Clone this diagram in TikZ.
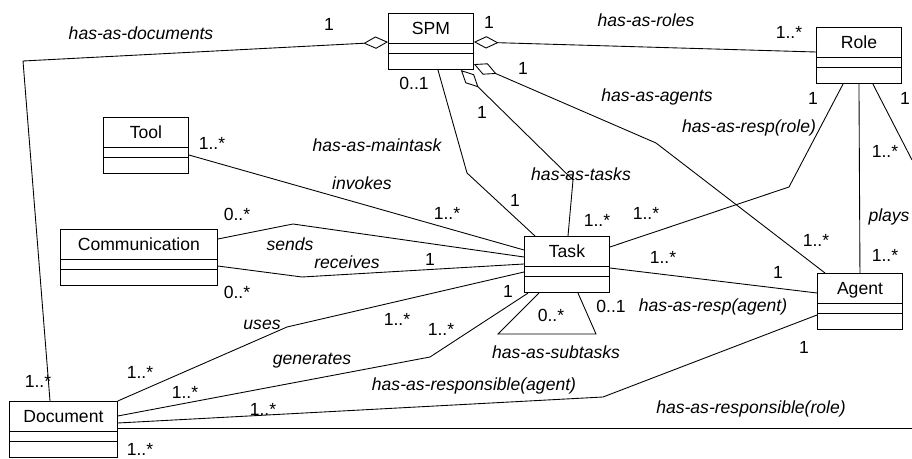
\documentclass[tikz,border=0pt]{standalone}
\usepackage{fontspec}
\setmainfont{Liberation Sans}
\usetikzlibrary{shapes.multipart,arrows.meta,calc}

\newcommand{\clsname}[1]{\rule[-4.3pt]{0pt}{16.3pt}#1\nodepart{second}\rule{0pt}{5.7pt}\nodepart{third}\rule{0pt}{8.5pt}}

\tikzset{
	cls/.style={draw, line width=0.5pt, rectangle split, rectangle split parts=3, inner xsep=0pt, inner ysep=0pt, text width=#1, align=center, anchor=north west},
	cls/.default=48.4pt,
	assoc/.style={line width=0.5pt},
	aggr/.style={assoc, {Diamond[open,length=14pt,width=7pt]}-},
	lbl/.style={font=\itshape, inner sep=0pt},
	mult/.style={inner sep=0pt}
}

\begin{document}
\begin{tikzpicture}[x=0.02cm, y=-0.02cm]
		\useasboundingbox (0,0) rectangle (912,459);
		
		\node[cls] (SPM) at (388,13) {\clsname{SPM}};
		\node[cls] (Role) at (816,27) {\clsname{Role}};
		\node[cls] (Tool) at (103,117) {\clsname{Tool}};
		\node[cls=89.3pt] (Comm) at (60,229) {\clsname{Communication}};
		\node[cls=61.4pt] (Doc) at (9,401) {\clsname{Document}};
		\node[cls] (Task) at (524,236) {\clsname{Task}};
		\node[cls] (Agent) at (817,273) {\clsname{Agent}};
		
		\coordinate (docbend) at (23,61);
		\coordinate (agentbend) at (656,143);
		\coordinate (tasksbend) at (573,180);
		\coordinate (mainbend) at (467,173);
		\coordinate (sendbend) at (293,224);
		\coordinate (recvbend) at (302,277);
		\coordinate (usebend) at (287,327);
		\coordinate (genbend) at (430,357);
		\coordinate (respagbend) at (603,397);
		\coordinate (resprolebend) at (789,187);
		\coordinate (sub1) at (498,334);
		\coordinate (sub2) at (596,334);
		\coordinate (roleout) at (912,160);
		\coordinate (docout) at (912,428);
		
		\draw[aggr] ($(SPM.north west)+(0,29)$) -- (docbend) -- ($(Doc.north west)+(41,0)$);
		\draw[aggr] ($(SPM.north east)+(0,29)$) -- ($(Role.north west)+(0,25)$);
		\draw[aggr] ($(SPM.south east)+(0,-6)$) -- (agentbend) -- ($(Agent.north west)+(8,0)$);
		\draw[aggr] ($(SPM.south east)+(-13,0)$) -- (tasksbend) -- ($(Task.north west)+(44,0)$);
		\draw[assoc] ($(SPM.south west)+(50,0)$) -- (mainbend) -- ($(Task.north west)+(11,0)$);
		\draw[assoc] ($(Tool.north east)+(0,38)$) -- ($(Task.north west)+(0,14)$);
		\draw[assoc] ($(Comm.north east)+(0,10)$) -- (sendbend) -- ($(Task.north west)+(0,21)$);
		\draw[assoc] ($(Comm.north east)+(0,37)$) -- (recvbend) -- ($(Task.north west)+(0,28)$);
		\draw[assoc] (Doc.north east) -- (usebend) -- ($(Task.north west)+(0,36)$);
		\draw[assoc] ($(Doc.north east)+(0,15)$) -- (genbend) -- ($(Task.south west)+(4,0)$);
		\draw[assoc] ($(Doc.north east)+(0,22)$) -- (respagbend) -- ($(Agent.north west)+(0,42)$);
		\draw[assoc] ($(Doc.north east)+(0,27)$) -- (docout);
		\draw[assoc] ($(Role.south west)+(27,0)$) -- (resprolebend) -- ($(Task.north east)+(0,11)$);
		\draw[assoc] ($(Task.north east)+(0,32)$) -- ($(Agent.north west)+(0,20)$);
		\draw[assoc] (Role.south) -- (Agent.north);
		\draw[assoc] ($(Role.south east)+(-29,0)$) -- (roleout);
		\draw[assoc] ($(Task.south west)+(15,0)$) -- (sub1) -- (sub2) -- ($(Task.south west)+(54,0)$);
		
		\node[lbl] (ldocs) at (141,33) {has-as-documents};
		\node[lbl] (lroles) at (646,20) {has-as-roles};
		\node[lbl] (lagents) at (657,97) {has-as-agents};
		\node[lbl] (lmain) at (377,145) {has-as-maintask};
		\node[lbl] (lresprole) at (749,128) {has-as-resp(role)};
		\node[lbl] (linvokes) at (362,183) {invokes};
		\node[lbl] (ltasks) at (581,174) {has-as-tasks};
		\node[lbl] (lplays) at (889,217) {plays};
		\node[lbl] (lsends) at (290,244) {sends};
		\node[lbl] (lreceives) at (347,262) {receives};
		\node[lbl] (lrespag) at (713,307) {has-as-resp(agent)};
		\node[lbl] (luses) at (262,325) {uses};
		\node[lbl] (lsub) at (556,352) {has-as-subtasks};
		\node[lbl] (lgen) at (312,361) {generates};
		\node[lbl] (lresponag) at (474,386) {has-as-responsible(agent)};
		\node[lbl] (lresponrole) at (751,409) {has-as-responsible(role)};
		
		\node[mult] (m1) at (329,24) {1};
		\node[mult] (m2) at (38,381) {1..*};
		\node[mult] (m3) at (489,22) {1};
		\node[mult] (m4) at (789,32) {1..*};
		\node[mult] (m5) at (523,68) {1};
		\node[mult] (m6) at (816,240) {1..*};
		\node[mult] (m7) at (414,83) {0..1};
		\node[mult] (m8) at (515,200) {1};
		\node[mult] (m9) at (482,112) {1};
		\node[mult] (m10) at (597,220) {1..*};
		\node[mult] (m11) at (212,143) {1..*};
		\node[mult] (m12) at (447,213) {1..*};
		\node[mult] (m13) at (237,214) {0..*};
		\node[mult] (m14) at (237,292) {0..*};
		\node[mult] (m15) at (430,259) {1};
		\node[mult] (m16) at (140,372) {1..*};
		\node[mult] (m17) at (397,319) {1..*};
		\node[mult] (m18) at (185,392) {1..*};
		\node[mult] (m19) at (441,329) {1..*};
		\node[mult] (m20) at (508,291) {1};
		\node[mult] (m21) at (263,409) {1..*};
		\node[mult] (m22) at (804,347) {1};
		\node[mult] (m23) at (140,449) {1..*};
		\node[mult] (m24) at (813,98) {1};
		\node[mult] (m25) at (646,213) {1..*};
		\node[mult] (m26) at (663,257) {1..*};
		\node[mult] (m27) at (778,272) {1};
		\node[mult] (m28) at (905,98) {1};
		\node[mult] (m29) at (885,151) {1..*};
		\node[mult] (m30) at (885,255) {1..*};
		\node[mult] (m31) at (551,315) {0..*};
		\node[mult] (m32) at (611,306) {0..1};
	\end{tikzpicture}
\end{document}
